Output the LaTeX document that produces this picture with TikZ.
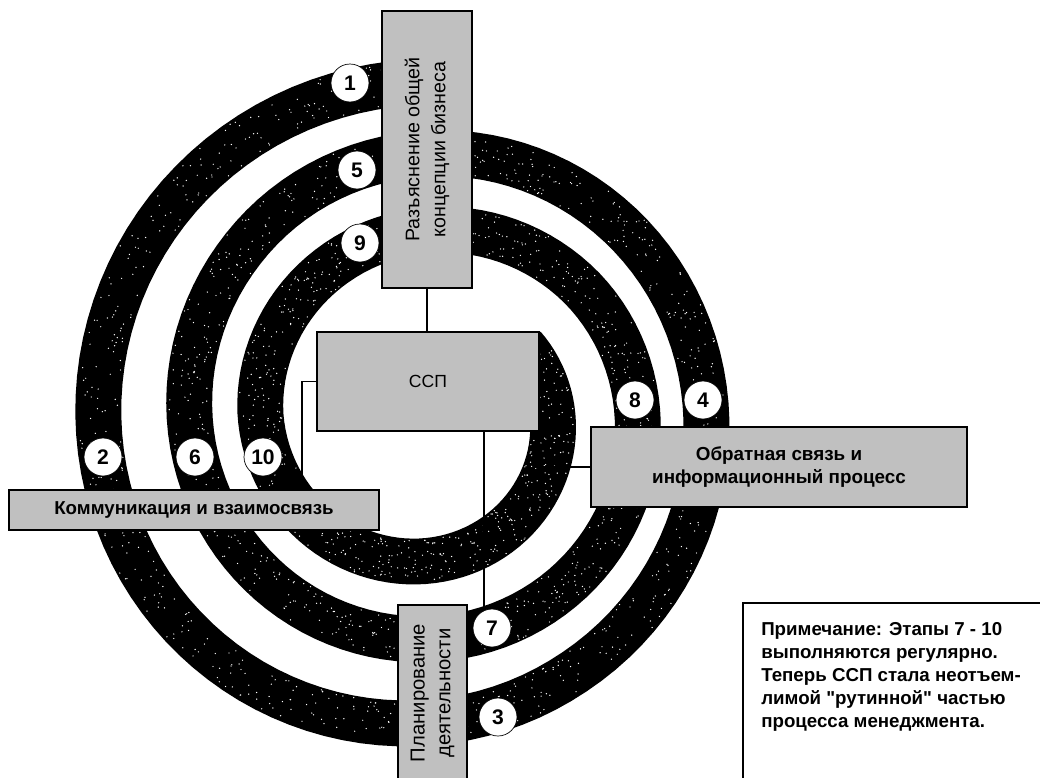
\documentclass[tikz,border=0pt]{standalone}
\usepackage{fontspec}
\setmainfont{Liberation Sans}
\newfontfamily\notefont{Liberation Sans}
\usetikzlibrary{positioning}
\definecolor{BoxGray}{RGB}{192,192,192}
\newlength{\unitpx}
\setlength{\unitpx}{0.025cm}

\begin{document}
\begin{tikzpicture}[x=\unitpx, y=-\unitpx,
    declare function={
      spr(\a)=341-(\a-90)/360*78;
      spx(\a)=420+13*min(1,max(0,(\a-300)/200))-7*min(1,max(0,(\a-760)/140));
      spy(\a)=423-8*min(1,max(0,(\a-200)/300));
    },
    stagebox/.style={draw=black, line width=1.4pt, fill=BoxGray, inner sep=0pt, align=center},
    stagenum/.style={circle, draw=black, line width=0.5pt, fill=white, minimum size=38\unitpx,
      inner sep=0pt, font=\fontsize{15}{15}\selectfont\bfseries},
    link/.style={line width=1.1pt}]
    \useasboundingbox[fill=white] (0,0) rectangle (1040,777);

    % Spiral band
    \fill[black] plot[domain=85:1116, samples=320, variable=\t]
        ({spx(\t)+(spr(\t)+23)*cos(\t)}, {spy(\t)-(spr(\t)+23)*sin(\t)})
      -- plot[domain=1116:85, samples=320, variable=\t]
        ({spx(\t)+(spr(\t)-23)*cos(\t)}, {spy(\t)-(spr(\t)-23)*sin(\t)}) -- cycle;

    % Speckles on the band
    \pgfmathsetseed{11}
    \foreach \i in {1,...,2000} {
      \pgfmathsetmacro\ta{85+1031*rnd}
      \pgfmathsetmacro\rr{spr(\ta)+42*rnd-21}
      \fill[white] ({spx(\ta)+\rr*cos(\ta)}, {spy(\ta)-\rr*sin(\ta)}) circle (0.7);
    }

    % Stage boxes
    \node[stagebox, rotate=90, minimum width=277\unitpx, minimum height=90\unitpx,
      font=\fontsize{14}{18.4}\selectfont] (clarify) at (427,149.5) {Разъяснение общей\\концепции бизнеса};
    \node[stagebox, minimum width=222\unitpx, minimum height=99\unitpx,
      font=\fontsize{12.5}{15}\selectfont] (ccp) at (428,381.5) {ССП};
    \node[stagebox, minimum width=370\unitpx, minimum height=40\unitpx,
      font=\fontsize{13.3}{16}\selectfont\bfseries] (comm) at (194,510) {Коммуникация и взаимосвязь};
    \node[stagebox, minimum width=376\unitpx, minimum height=80\unitpx,
      font=\fontsize{13.4}{16.3}\selectfont\bfseries] (feedback) at (779,467) {Обратная связь и\\информационный процесс};
    \node[stagebox, rotate=90, minimum width=176\unitpx, minimum height=69\unitpx,
      font=\fontsize{14.4}{18.4}\selectfont] (plan) at (432.5,693) {Планирование\\деятельности};

    % Connectors
    \draw[link] (clarify.west) -- (clarify.west |- ccp.north);
    \draw[link] (ccp.west) -| ([xshift=-78\unitpx]comm.north east);
    \draw[link] ([xshift=56\unitpx]ccp.south) |- ([yshift=73\unitpx]plan.south);
    \draw[link] ([xshift=-4\unitpx]ccp.south east) |- (feedback.west);

    % Stage numbers
    \foreach \n/\x/\y in {1/350/83, 2/103/457, 3/498/717, 4/703/400, 5/357/170,
                          6/195/457, 7/492/628, 8/635/400, 9/360/243, 10/263/457} {
      \node[stagenum] (num\n) at (\x,\y) {\n};
    }

    % Note
    \draw[line width=1.4pt, fill=white] (743,603) rectangle (1050,790);
    \node[anchor=north west, align=left, inner sep=0pt,
      font=\fontsize{13.3}{16.3}\notefont\bfseries] (note) at (761,622)
      {Примечание: Этапы 7 - 10\\выполняются регулярно.\\Теперь ССП стала неотъем-\\лимой "рутинной" частью\\процесса менеджмента.};
  \end{tikzpicture}
\end{document}
